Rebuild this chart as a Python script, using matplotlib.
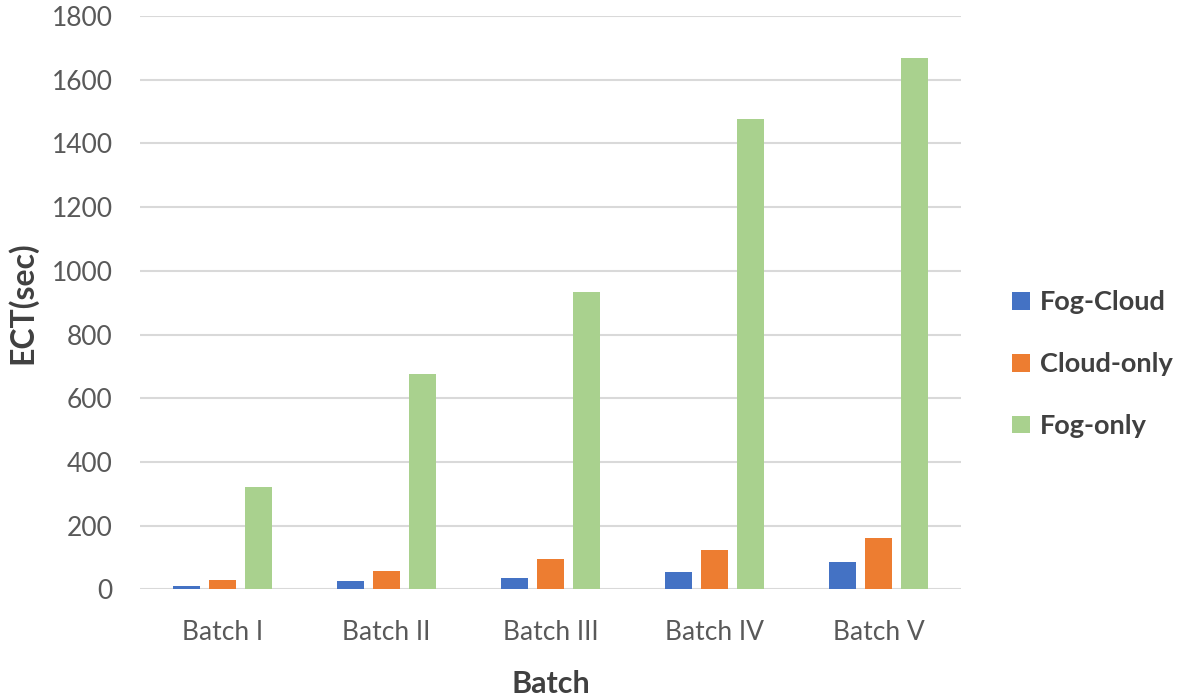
import matplotlib
matplotlib.use("Agg")
import matplotlib.pyplot as plt
import numpy as np

categories = ["Batch I", "Batch II", "Batch III", "Batch IV", "Batch V"]
series_names = ["Fog-Cloud", "Cloud-only", "Fog-only"]
fog_cloud = [11, 25, 36, 54, 86]
cloud_only = [30, 58, 96, 122, 160]
fog_only = [320, 675, 933, 1477, 1668]
colors = ["#4472C4", "#ED7D31", "#A9D18E"]
yticks = [0, 200, 400, 600, 800, 1000, 1200, 1400, 1600, 1800]

plt.rcParams['font.family'] = ['Lato', 'DejaVu Sans']

fig = plt.figure(figsize=(11.8, 6.99), dpi=100)
ax = fig.add_axes([0.119, 0.157, 0.695, 0.82])

x = np.arange(len(categories))
width = 0.166
step = 0.22
for i, (vals, name, c) in enumerate(zip([fog_cloud, cloud_only, fog_only], series_names, colors)):
    ax.bar(x + (i - 1) * step, vals, width, color=c, label=name, zorder=3)

ax.set_ylim(0, 1800)
ax.set_xlim(-0.5, len(categories) - 0.5)
ax.set_yticks(yticks)
ax.set_xticks(x)
ax.set_xticklabels(categories)
ax.yaxis.grid(True, color="#D9D9D9", linewidth=1.5, zorder=0)
ax.set_axisbelow(True)
for s in ax.spines.values():
    s.set_visible(False)
ax.tick_params(axis='both', length=0, labelsize=19, labelcolor="#595959")
ax.tick_params(axis='y', pad=20)
ax.tick_params(axis='x', pad=22)
ax.set_xlabel("Batch", fontsize=22, fontweight='bold', color="#404040", labelpad=18)
ax.set_ylabel("ECT(sec)", fontsize=23, fontweight='bold', color="#404040", labelpad=10)

leg = fig.legend(loc='center left', bbox_to_anchor=(0.858, 0.479), frameon=False,
                 fontsize=19.5, handlelength=0.63, handleheight=0.63, labelspacing=1.4,
                 handletextpad=0.37, borderpad=0, borderaxespad=0)
for t in leg.get_texts():
    t.set_fontweight('bold')
    t.set_color("#404040")

fig.savefig("out.png", dpi=100)
